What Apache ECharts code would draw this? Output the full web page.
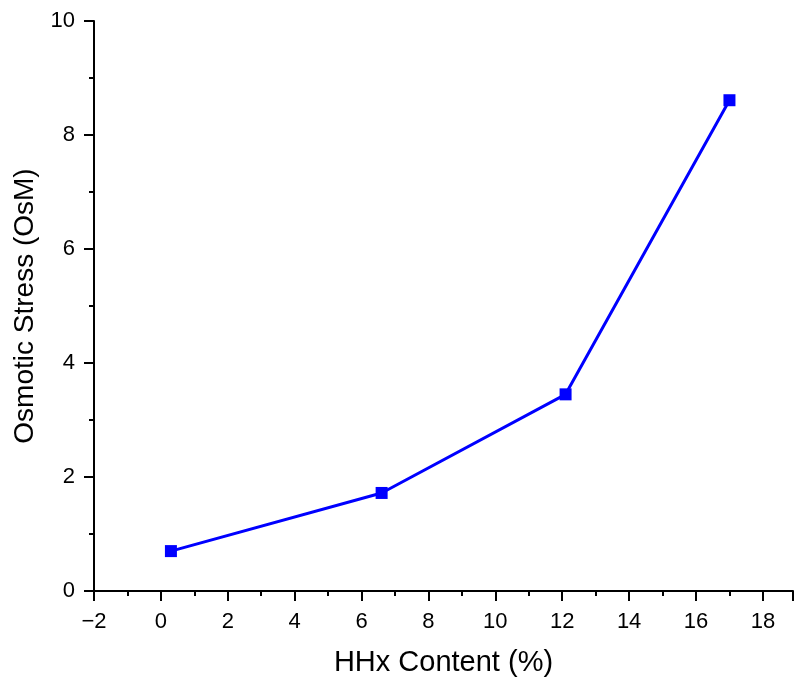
<!DOCTYPE html>
<html>
<head>
<meta charset="utf-8">
<script src="https://cdn.jsdelivr.net/npm/echarts@6/dist/echarts.min.js"></script>
<style>
  html, body { margin: 0; padding: 0; background: #fff; }
  #chart { width: 796px; height: 683px; }
</style>
</head>
<body>
<div id="chart"></div>
<script>
// HHx content (%) against osmotic stress (OsM)
const hhxContent = [0.3, 6.6, 12.1, 17.0];
const osmoticStress = [0.70, 1.72, 3.45, 8.61];
const xTicks = [-2, 0, 2, 4, 6, 8, 10, 12, 14, 16, 18];
const yTicks = [0, 2, 4, 6, 8, 10];

const font = 'Arial, "Liberation Sans", sans-serif';
const chart = echarts.init(document.getElementById('chart'), null, { renderer: 'canvas' });

const axisCommon = {
  axisLine: { show: true, onZero: false, lineStyle: { color: '#000', width: 2 } },
  axisTick: { show: true, inside: false, length: 10, lineStyle: { color: '#000', width: 2 } },
  minorTick: { show: true, splitNumber: 2, length: 5, lineStyle: { color: '#000', width: 2 } },
  splitLine: { show: false },
  nameLocation: 'middle',
  nameTextStyle: { fontFamily: font, fontSize: 28, color: '#000' },
  axisLabel: { fontFamily: font, fontSize: 22, color: '#000' }
};

chart.setOption({
  animation: false,
  backgroundColor: '#fff',
  grid: { left: 94, right: 0, top: 21, bottom: 92, containLabel: false },
  xAxis: Object.assign({}, axisCommon, {
    type: 'value',
    min: xTicks[0],
    max: 18.9,
    interval: 2,
    name: 'HHx Content (%)',
    nameGap: 57,
    nameTextStyle: Object.assign({}, axisCommon.nameTextStyle, { fontSize: 29 }),
    axisLabel: Object.assign({}, axisCommon.axisLabel, {
      margin: 20,
      formatter: v => xTicks.includes(v) ? String(v).replace('-', '\u2212') : ''
    })
  }),
  yAxis: Object.assign({}, axisCommon, {
    type: 'value',
    min: yTicks[0],
    max: yTicks[yTicks.length - 1],
    interval: 2,
    name: 'Osmotic Stress (OsM)',
    nameGap: 49,
    axisLabel: Object.assign({}, axisCommon.axisLabel, { margin: 19 })
  }),
  series: [{
    type: 'line',
    data: hhxContent.map((x, i) => [x, osmoticStress[i]]),
    symbol: 'rect',
    symbolSize: 12,
    lineStyle: { color: '#0000ff', width: 3 },
    itemStyle: { color: '#0000ff' }
  }]
});
</script>
</body>
</html>
